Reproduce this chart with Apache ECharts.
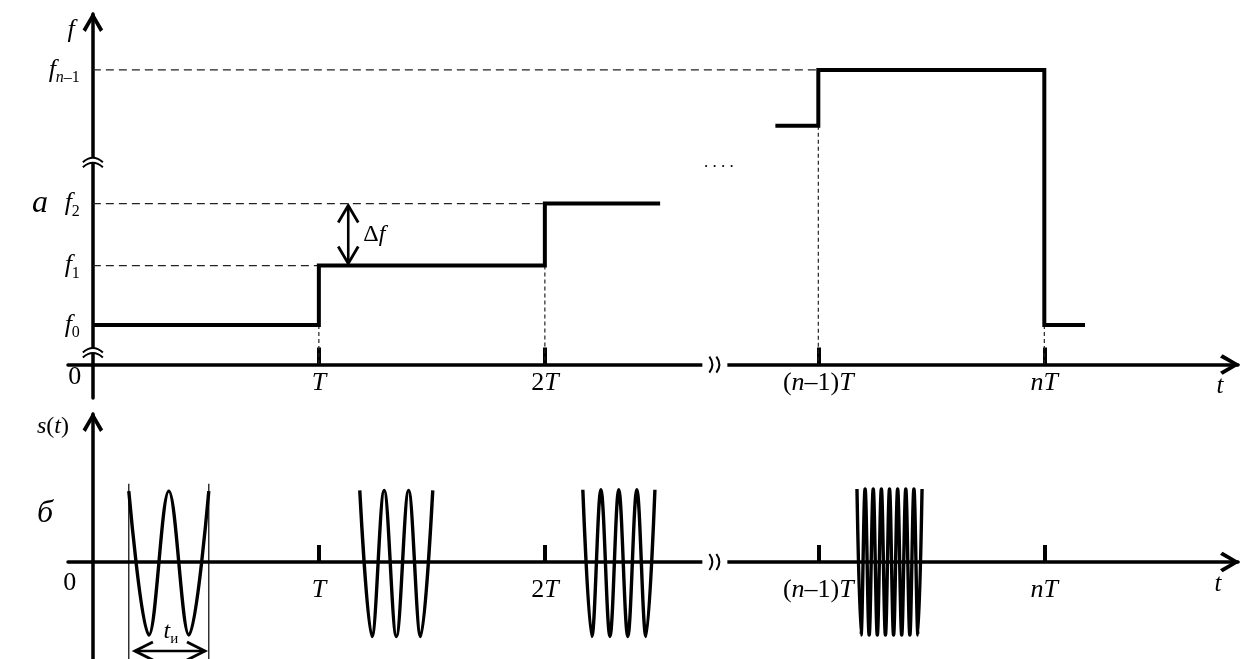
<!DOCTYPE html>
<html><head><meta charset="utf-8">
<script src="https://cdn.jsdelivr.net/npm/echarts@6/dist/echarts.min.js"></script>
<style>html,body{margin:0;padding:0;background:#fff}#c{width:1242px;height:659px}</style>
</head><body><div id="c"></div>
<script>
// ---------------- DATA ----------------
// x: time in units of T (display positions; the axis is broken between 2T and (n-1)T)
// y (panel а): frequency in units of Δf (display positions; axis broken between f2 and f_{n-1})
// y (panel б): signal amplitude (normalised)
const TICK_POS = [1, 2, 3.21, 4.21];
const TICK_LABELS = ['T', '2T', '(n–1)T', 'nT'];
const F_VALUES = [0.65, 1.63, 2.65, 4.85];
const F_LABELS = ['f0', 'f1', 'f2', 'fn–1'];
const F_NM2 = 3.93;                       // level just before (n-1)T
const STEP_A = [[0, 0.65], [1, 0.65], [1, 1.63], [2, 1.63], [2, 2.65], [2.51, 2.65]];
const STEP_B = [[3.02, 3.93], [3.21, 3.93], [3.21, 4.85], [4.21, 4.85], [4.21, 0.65], [4.39, 0.65]];
const DASH_H = [[1.63, 1], [2.65, 2], [4.85, 3.21]];          // [level, x where it meets the step]
const DASH_V = [[1, 0.65], [2, 1.63], [3.21, 3.93], [4.21, 0.65]]; // [x, level the guide drops from]
const Y_BREAKS_A = [3.33, 0.2];
const X_BREAK = 2.75;
const DF_X = 1.13;
const DOTS = [2.77, 3.33];

// pulses of panel б: successive extremes
const PULSE_1 = [[0.159, 0.97], [0.248, -1.0], [0.336, 0.97], [0.425, -1.0], [0.513, 0.97]];
const PULSE_2 = [[1.181, 0.98], [1.235, -1.02], [1.289, 0.98], [1.343, -1.02], [1.397, 0.98], [1.450, -1.02], [1.504, 0.98]];
const PULSE_3 = [[2.168, 0.99], [2.208, -1.02], [2.248, 0.99], [2.288, -1.02], [2.327, 0.99], [2.367, -1.02], [2.407, 0.99], [2.447, -1.02], [2.487, 0.99]];
const PULSE_4 = [[3.381, 1.0], [3.399, -1.0], [3.417, 1.0], [3.435, -1.0], [3.453, 1.0], [3.471, -1.0], [3.489, 1.0], [3.507, -1.0], [3.525, 1.0],
                 [3.543, -1.0], [3.561, 1.0], [3.579, -1.0], [3.597, 1.0], [3.615, -1.0], [3.633, 1.0], [3.651, -1.0], [3.669, 1.0]];
const PULSE_EDGE_TOP = 1.07;
const TI_ARROW = [0.186, 0.496, -1.22];
const TI_LABEL = [0.345, -0.95];

// ---------------- STYLE / HELPERS ----------------
const FF = '"Liberation Serif", "Times New Roman", serif';
const ARROW = 'path://M10,0 L20,17 L17,19.5 L10,7 L3,19.5 L0,17 Z';
const K = '#000';

function richRun(s, it, up) {
  let out = '', cur = null, buf = '';
  for (const ch of s) {
    const k = /[A-Za-z]/.test(ch) ? it : up;
    if (k !== cur && buf) { out += '{' + cur + '|' + buf + '}'; buf = ''; }
    cur = k; buf += ch;
  }
  if (buf) out += '{' + cur + '|' + buf + '}';
  return out;
}
function fLabel(s) { return '{I|' + s[0] + '}' + richRun(s.slice(1), 'SI', 'S'); }
const RICH = {
  i: { fontFamily: FF, fontStyle: 'italic', fontSize: 24, lineHeight: 30, color: K },
  r: { fontFamily: FF, fontSize: 24, lineHeight: 30, color: K },
  s: { fontFamily: FF, fontSize: 15, lineHeight: 15, verticalAlign: 'bottom', color: K },
  si: { fontFamily: FF, fontStyle: 'italic', fontSize: 15, lineHeight: 15, verticalAlign: 'bottom', color: K },
  I: { fontFamily: FF, fontStyle: 'italic', fontSize: 26, lineHeight: 32, color: K },
  R: { fontFamily: FF, fontSize: 26, lineHeight: 32, color: K },
  S: { fontFamily: FF, fontSize: 16, lineHeight: 16, verticalAlign: 'bottom', color: K },
  SI: { fontFamily: FF, fontStyle: 'italic', fontSize: 16, lineHeight: 16, verticalAlign: 'bottom', color: K }
};
function textEl(x, y, text, align) {
  return { type: 'text', x: x, y: y, style: { text: text, rich: RICH, align: align || 'center', verticalAlign: 'middle' } };
}
function lineEl(a, b, w, dash) {
  return { type: 'line', shape: { x1: a[0], y1: a[1], x2: b[0], y2: b[1] }, style: { stroke: K, lineWidth: w, lineDash: dash || null } };
}
function chevron(tip, dx, dy, L, W, w) {
  const nx = -dy, ny = dx;
  return { type: 'polyline', shape: { points: [[tip[0] - L * dx + W * nx, tip[1] - L * dy + W * ny], tip, [tip[0] - L * dx - W * nx, tip[1] - L * dy - W * ny]] },
    style: { stroke: K, lineWidth: w, fill: 'none', lineJoin: 'miter' } };
}
function curve(x1, y1, cx, cy, x2, y2) {
  return { type: 'bezierCurve', shape: { x1: x1, y1: y1, cpx1: cx, cpy1: cy, x2: x2, y2: y2 }, style: { stroke: K, lineWidth: 2, fill: 'none' } };
}
function yBreak(p) {
  return [
    { type: 'rect', shape: { x: p[0] - 4, y: p[1] - 4.5, width: 8, height: 5 }, style: { fill: '#fff' } },
    curve(p[0] - 10, p[1], p[0], p[1] - 9, p[0] + 10, p[1]),
    curve(p[0] - 10, p[1] + 5, p[0], p[1] - 4, p[0] + 10, p[1] + 5)
  ];
}
function xBreak(p) {
  return [
    { type: 'rect', shape: { x: p[0] - 12, y: p[1] - 4, width: 25, height: 8 }, style: { fill: '#fff' } },
    curve(p[0] - 5, p[1] - 8, p[0] + 1, p[1], p[0] - 5, p[1] + 8),
    curve(p[0] + 2, p[1] - 8, p[0] + 8, p[1], p[0] + 2, p[1] + 8)
  ];
}
function tickLabels(api, dy, zeroDx, zeroDy) {
  const ch = [];
  TICK_POS.forEach((x, i) => { const p = api.coord([x, 0]); ch.push(textEl(p[0], p[1] + dy, richRun(TICK_LABELS[i], 'I', 'R'))); });
  const o = api.coord([0, 0]);
  ch.push(textEl(o[0] + zeroDx, o[1] + zeroDy, '{R|0}'));
  return ch;
}

function renderTop(params, api) {
  const ch = [];
  Y_BREAKS_A.forEach(y => ch.push.apply(ch, yBreak(api.coord([0, y]))));
  ch.push.apply(ch, xBreak(api.coord([X_BREAK, 0])));
  const a = api.coord([DF_X, F_VALUES[1]]), b = api.coord([DF_X, F_VALUES[2]]);
  const bt = [b[0], b[1] + 2], at = [a[0], a[1] - 2];
  ch.push(lineEl(at, bt, 2.6));
  ch.push(chevron(bt, 0, -1, 17, 10, 2.8));
  ch.push(chevron(at, 0, 1, 17, 10, 2.8));
  const m = api.coord([DF_X, (F_VALUES[1] + F_VALUES[2]) / 2]);
  ch.push(textEl(m[0] + 15, m[1], '{r|Δ}{i|f}', 'left'));
  const d = api.coord(DOTS);
  ch.push({ type: 'text', x: d[0], y: d[1], style: { text: '. . . .', font: '17px ' + FF, fill: K, align: 'center', verticalAlign: 'middle' } });
  F_VALUES.forEach((v, i) => { const p = api.coord([0, v]); ch.push(textEl(p[0] - 13, p[1], fLabel(F_LABELS[i]), 'right')); });
  ch.push.apply(ch, tickLabels(api, 19, -18, 13));
  return { type: 'group', children: ch };
}
function renderBottom(params, api) {
  const ch = [];
  const yMin = -1.329;
  [PULSE_1[0][0], PULSE_1[PULSE_1.length - 1][0]].forEach(x => ch.push(lineEl(api.coord([x, PULSE_EDGE_TOP]), api.coord([x, yMin]), 1.2)));
  const l = api.coord([TI_ARROW[0], TI_ARROW[2]]), r = api.coord([TI_ARROW[1], TI_ARROW[2]]);
  ch.push(lineEl(l, r, 2.6));
  ch.push(chevron(l, -1, 0, 18, 9, 2.8));
  ch.push(chevron(r, 1, 0, 18, 9, 2.8));
  const t = api.coord(TI_LABEL);
  ch.push(textEl(t[0], t[1], '{i|t}{s|и}'));
  ch.push.apply(ch, xBreak(api.coord([X_BREAK, 0])));
  ch.push.apply(ch, tickLabels(api, 28, -23, 21));
  return { type: 'group', children: ch };
}

// ---------------- CHART ----------------
const chart = echarts.init(document.getElementById('c'), null, { renderer: 'canvas' });
const axisLineStyle = { color: K, width: 3.5 };
const thick = { color: K, width: 4, cap: 'butt', join: 'miter' };
const series = [];
series.push({ type: 'line', xAxisIndex: 0, yAxisIndex: 0, data: STEP_A, showSymbol: false, lineStyle: thick, z: 5 });
series.push({ type: 'line', xAxisIndex: 0, yAxisIndex: 0, data: STEP_B, showSymbol: false, lineStyle: thick, z: 5 });
DASH_H.forEach(g => series.push({ type: 'line', xAxisIndex: 0, yAxisIndex: 0, data: [[0, g[0]], [g[1], g[0]]], showSymbol: false,
  lineStyle: { color: '#222', width: 1.2, type: [8, 5] }, z: 3 }));
DASH_V.forEach(g => series.push({ type: 'line', xAxisIndex: 0, yAxisIndex: 0, data: [[g[0], g[1]], [g[0], 0]], showSymbol: false,
  lineStyle: { color: '#222', width: 1.2, type: [4, 3] }, z: 3 }));
[PULSE_1, PULSE_2, PULSE_3, PULSE_4].forEach(p => series.push({ type: 'line', xAxisIndex: 1, yAxisIndex: 1, data: p, showSymbol: false,
  smooth: 0.36, lineStyle: { color: K, width: 3.4 }, z: 5 }));
series.push({ type: 'custom', xAxisIndex: 0, yAxisIndex: 0, data: [[0, 0]], renderItem: renderTop, clip: false, silent: true, z: 10 });
series.push({ type: 'custom', xAxisIndex: 1, yAxisIndex: 1, data: [[0, 0]], renderItem: renderBottom, clip: false, silent: true, z: 10 });

function xAxisCfg(grid) {
  return {
    gridIndex: grid, type: 'value', min: -0.11, max: 5.067,
    axisLine: { onZero: true, lineStyle: axisLineStyle, symbol: ['none', ARROW], symbolSize: [21, 20], symbolOffset: [0, -8] },
    axisTick: { show: true, inside: true, length: 17, customValues: TICK_POS, lineStyle: { color: K, width: 4 } },
    axisLabel: { show: false },
    splitLine: { show: false }
  };
}
function yAxisCfg(grid, min, max) {
  return {
    gridIndex: grid, type: 'value', min: min, max: max,
    axisLine: { onZero: true, lineStyle: axisLineStyle, symbol: ['none', ARROW], symbolSize: [21, 20], symbolOffset: [0, -8] },
    axisTick: { show: false }, splitLine: { show: false }, axisLabel: { show: false }
  };
}

chart.setOption({
  animation: false,
  backgroundColor: '#fff',
  grid: [
    { left: 68, right: 4, top: 14, bottom: 261, containLabel: false, outerBoundsMode: 'none' },
    { left: 68, right: 4, top: 414, bottom: 0, containLabel: false, outerBoundsMode: 'none' }
  ],
  xAxis: [xAxisCfg(0), xAxisCfg(1)],
  yAxis: [yAxisCfg(0, -0.55, 5.77), yAxisCfg(1, -1.329, 2.027)],
  graphic: [
    { type: 'text', x: 71, y: 30, style: { text: 'f', font: 'italic 26px ' + FF, fill: K, align: 'center', verticalAlign: 'middle' } },
    { type: 'text', x: 40, y: 204, style: { text: '\u0430', font: 'italic 32px ' + FF, fill: K, align: 'center', verticalAlign: 'middle' } },
    { type: 'text', x: 1220, y: 386, style: { text: 't', font: 'italic 25px ' + FF, fill: K, align: 'center', verticalAlign: 'middle' } },
    { type: 'text', x: 53, y: 427, style: { text: '{i|s}{r|(}{i|t}{r|)}', rich: RICH, align: 'center', verticalAlign: 'middle' } },
    { type: 'text', x: 45, y: 514, style: { text: '\u0431', font: 'italic 32px ' + FF, fill: K, align: 'center', verticalAlign: 'middle' } },
    { type: 'text', x: 1218, y: 584, style: { text: 't', font: 'italic 25px ' + FF, fill: K, align: 'center', verticalAlign: 'middle' } }
  ],
  series: series
});
</script></body></html>
